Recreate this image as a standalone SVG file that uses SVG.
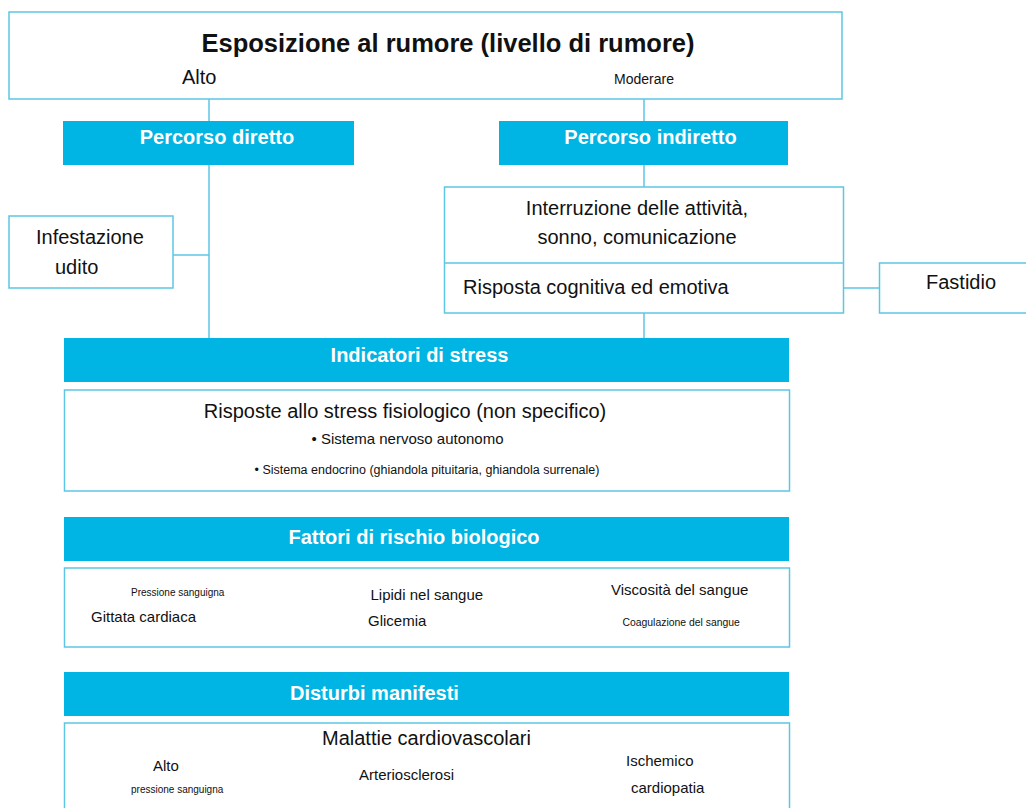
<svg xmlns="http://www.w3.org/2000/svg" width="1026" height="808" viewBox="0 0 1026 808">
<style>
.box{fill:#fff;stroke:#5cc6e4;stroke-width:1.5}
.bar{fill:#00b4e3}
.ln{stroke:#5cc6e4;stroke-width:1.5;fill:none}
text{font-family:"Liberation Sans",Arial,sans-serif;fill:#111}
.hd{font-weight:bold;font-size:20px;fill:#fff}
.t20{font-size:20px}
.t15{font-size:15px}
.t10{font-size:10px}
</style>
<rect width="1026" height="808" fill="#fff"/>
<g id="connectors">
<line class="ln" x1="209" y1="99" x2="209" y2="121"/>
<line class="ln" x1="209" y1="165" x2="209" y2="338"/>
<line class="ln" x1="173" y1="255" x2="209" y2="255"/>
<line class="ln" x1="644" y1="99" x2="644" y2="121"/>
<line class="ln" x1="644" y1="165" x2="644" y2="187"/>
<line class="ln" x1="644" y1="313" x2="644" y2="338"/>
<line class="ln" x1="844" y1="288" x2="879" y2="288"/>
</g>
<g id="exposure">
<rect class="box" x="9" y="12" width="833" height="87"/>
<text x="448" y="52" text-anchor="middle" font-weight="bold" font-size="25.5">Esposizione al rumore (livello di rumore)</text>
<text x="182" y="84" class="t20">Alto</text>
<text x="614" y="83.5" font-size="14">Moderare</text>
</g>
<g id="direct">
<rect class="bar" x="63" y="121" width="291" height="44"/>
<text x="217" y="143.5" text-anchor="middle" class="hd">Percorso diretto</text>
</g>
<g id="indirect">
<rect class="bar" x="499" y="121" width="289" height="44"/>
<text x="650.5" y="143.5" text-anchor="middle" class="hd">Percorso indiretto</text>
</g>
<g id="hearing">
<rect class="box" x="9" y="216" width="164" height="72"/>
<text x="36" y="243.5" class="t20">Infestazione</text>
<text x="55" y="273.5" class="t20">udito</text>
</g>
<g id="disruption">
<rect class="box" x="444.5" y="187" width="399" height="126"/>
<line class="ln" x1="444.5" y1="263" x2="843.5" y2="263"/>
<text x="637" y="215" text-anchor="middle" class="t20">Interruzione delle attività,</text>
<text x="637" y="244" text-anchor="middle" class="t20">sonno, comunicazione</text>
<text x="463" y="293.5" class="t20">Risposta cognitiva ed emotiva</text>
</g>
<g id="annoyance">
<rect class="box" x="879.5" y="263" width="150" height="50"/>
<text x="926" y="288.5" class="t20">Fastidio</text>
</g>
<g id="stress">
<rect class="bar" x="64" y="338" width="725" height="44"/>
<text x="419.5" y="361.5" text-anchor="middle" class="hd">Indicatori di stress</text>
<rect class="box" x="64.5" y="390" width="725" height="101"/>
<text x="405" y="418" text-anchor="middle" class="t20">Risposte allo stress fisiologico (non specifico)</text>
<text x="407.5" y="444" text-anchor="middle" font-size="15">• Sistema nervoso autonomo</text>
<text x="427" y="474" text-anchor="middle" font-size="12.5">• Sistema endocrino (ghiandola pituitaria, ghiandola surrenale)</text>
</g>
<g id="risk">
<rect class="bar" x="64" y="517" width="725" height="44"/>
<text x="414" y="544" text-anchor="middle" class="hd">Fattori di rischio biologico</text>
<rect class="box" x="64.5" y="568" width="725" height="79"/>
<text x="131" y="596" class="t10">Pressione sanguigna</text>
<text x="91" y="622" class="t15">Gittata cardiaca</text>
<text x="370.5" y="600" class="t15">Lipidi nel sangue</text>
<text x="368" y="626" class="t15">Glicemia</text>
<text x="611" y="595" class="t15">Viscosità del sangue</text>
<text x="622.5" y="626" font-size="10.4">Coagulazione del sangue</text>
</g>
<g id="disorders">
<rect class="bar" x="64" y="672" width="725" height="44"/>
<text x="290" y="699.5" class="hd">Disturbi manifesti</text>
<rect class="box" x="64.5" y="723" width="725" height="100"/>
<text x="322" y="745" class="t20">Malattie cardiovascolari</text>
<text x="153" y="771" class="t15">Alto</text>
<text x="131" y="793" class="t10">pressione sanguigna</text>
<text x="359" y="780" class="t15">Arteriosclerosi</text>
<text x="626" y="766" class="t15">Ischemico</text>
<text x="631" y="793" class="t15">cardiopatia</text>
</g>
</svg>
